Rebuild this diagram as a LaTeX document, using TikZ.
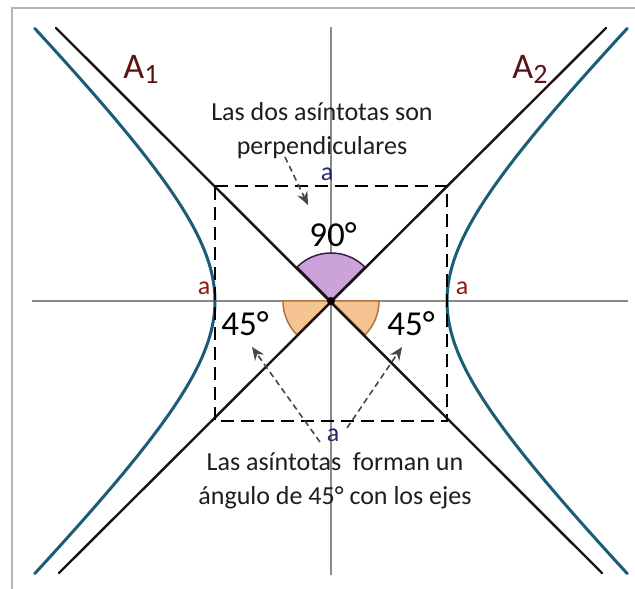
\documentclass[tikz,border=0pt]{standalone}
\usepackage{fontspec}
\setmainfont{Carlito}
\usetikzlibrary{arrows.meta}
\definecolor{hyp}{HTML}{1B5D78}
\definecolor{asy}{HTML}{1C1010}
\definecolor{axisgray}{HTML}{8A8A8A}
\definecolor{redlab}{HTML}{8B1A1A}
\definecolor{Alab}{HTML}{5A1212}
\definecolor{navylab}{HTML}{1F2A6B}
\definecolor{purp}{HTML}{CBA3DA}
\definecolor{purpline}{HTML}{3A1E4A}
\definecolor{orng}{HTML}{F6C393}
\definecolor{orngline}{HTML}{B0733E}
\definecolor{txt}{HTML}{1E1E1E}
\definecolor{framegray}{HTML}{B4B4B4}
\tikzset{
  hypline/.style={draw=hyp,line width=3pt,line cap=round},
  asyline/.style={draw=asy,line width=2.4pt,line cap=round},
  axisline/.style={draw=axisgray,line width=1.4pt},
  boxline/.style={draw=black,line width=2.8pt,dash pattern=on 13pt off 7pt},
  note/.style={font=\fontsize{26}{34}\selectfont,text=txt,align=center},
  anglab/.style={font=\fontsize{35}{37}\selectfont,text=black},
  alab/.style={font=\fontsize{26}{28}\selectfont},
  bigA/.style={font=\fontsize{36}{38}\selectfont,text=Alab},
  ptr/.style={draw=black!72,line width=1.6pt,dash pattern=on 6pt off 4pt,-{Stealth[length=13pt,width=11pt]}},
}
\newcommand{\subdig}[1]{\raisebox{-0.14em}{\fontsize{28}{28}\selectfont #1}}
\begin{document}
\begin{tikzpicture}[x=1pt,y=1pt]
\useasboundingbox (-331,-288) rectangle (304,301);
\fill[white] (-331,-288) rectangle (304,301);
% frame (top and left only)
\draw[framegray,line width=2pt] (304,293) -- (-319,293) -- (-319,-288);
% axes
\coordinate (O) at (0,0);
\coordinate (xl) at (-299,0);
\coordinate (xr) at (297,0);
\coordinate (yt) at (0,274);
\coordinate (yb) at (0,-274);
\draw[axisline] (xl) -- (xr);
\draw[axisline] (yt) -- (yb);
% angle sectors
\filldraw[fill=purp,draw=purpline,line width=1.5pt] (O) -- (45:48) arc[start angle=45,end angle=135,radius=48] -- cycle;
\filldraw[fill=orng,draw=orngline,line width=1.5pt] (O) -- (180:48) arc[start angle=180,end angle=225,radius=48] -- cycle;
\filldraw[fill=orng,draw=orngline,line width=1.5pt] (O) -- (-45:48) arc[start angle=-45,end angle=0,radius=48] -- cycle;
% asymptotes
\coordinate (A1t) at (-275,273);
\coordinate (A1b) at (271,-272);
\coordinate (A2t) at (275,273);
\coordinate (A2b) at (-272,-272);
\draw[asyline] (A1t) -- (A1b);
\draw[asyline] (A2t) -- (A2b);
% hyperbola
\draw[hypline] plot[domain=-1.59:1.59,samples=80,variable=\t] ({116*cosh(\t)},{116*sinh(\t)});
\draw[hypline] plot[domain=-1.59:1.59,samples=80,variable=\t] ({-116*cosh(\t)},{116*sinh(\t)});
% dashed box
\coordinate (B1) at (-116,115);
\coordinate (B2) at (116,115);
\coordinate (B3) at (116,-120);
\coordinate (B4) at (-116,-120);
\draw[boxline] (B1) -- (B2) -- (B3) -- (B4) -- cycle;
% centre dot
\fill[black] (O) circle (4);
% labels
\node[bigA] (lA1) at (-190,232) {A\subdig{1}};
\node[bigA] (lA2) at (199,232) {A\subdig{2}};
\node[note] (top) at (-9,170) {Las dos asíntotas son\\perpendiculares};
\node[note] (bot) at (4,-180) {Las asíntotas\ \ forman un\\ángulo de 45° con los ejes};
\node[alab,text=navylab] (at) at (-4,127) {a};
\node[alab,text=navylab] (ab) at (2,-134) {a};
\node[alab,text=redlab] (al) at (-127,13) {a};
\node[alab,text=redlab] (ar) at (131,13) {a};
\node[anglab] (n90) at (2,66) {90°};
\node[anglab] (n45l) at (-86,-23) {45°};
\node[anglab] (n45r) at (80,-23) {45°};
% pointer arrows
\coordinate (p1s) at (-46,144);
\coordinate (p1e) at (-23,96);
\coordinate (p2s) at (-11,-141);
\coordinate (p2e) at (-79,-46);
\coordinate (p3s) at (16,-127);
\coordinate (p3e) at (71,-46);
\draw[ptr] (p1s) -- (p1e);
\draw[ptr] (p2s) -- (p2e);
\draw[ptr] (p3s) -- (p3e);
\end{tikzpicture}
\end{document}
